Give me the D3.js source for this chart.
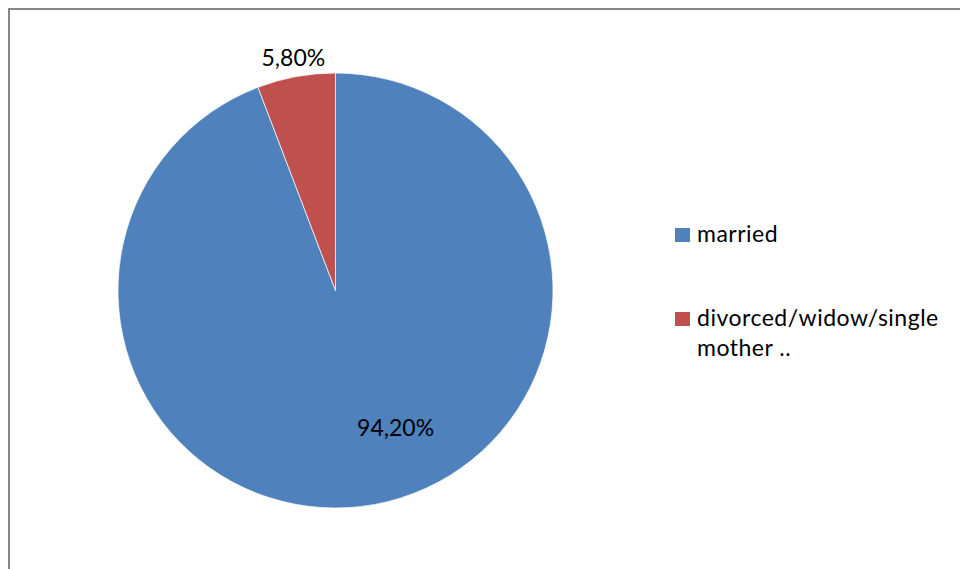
<!DOCTYPE html>
<html>
<head>
<meta charset="utf-8">
<script src="https://cdn.jsdelivr.net/npm/d3@7"></script>
<style>
    body { margin: 0; background: #fff; }
    svg { display: block; font-family: Lato, "Open Sans", sans-serif; }
</style>
</head>
<body>
<svg width="960" height="569"></svg>
<script>
const categories = ["married", "divorced/widow/single mother .."];
const legendLines = [["married"], ["divorced/widow/single", "mother .."]];
const values = [94.2, 5.8];
const valueLabels = ["94,20%", "5,80%"];
const colors = ["#4F81BD", "#C0504D"];

const svg = d3.select("svg");
const cx = 335.5, cy = 290.5, radius = 217.5;

// chart frame (only top and left edges are visible in the crop)
svg.append("rect")
    .attr("x", 9)
    .attr("y", 9)
    .attr("width", 1000)
    .attr("height", 700)
    .attr("fill", "none")
    .attr("stroke", "#878787")
    .attr("stroke-width", 2);

const pie = d3.pie().sort(null).value(d => d);
const arcs = pie(values);
const arc = d3.arc().innerRadius(0).outerRadius(radius);

const g = svg.append("g").attr("transform", `translate(${cx},${cy})`);

g.selectAll("path")
    .data(arcs)
    .enter()
    .append("path")
    .attr("d", arc)
    .attr("fill", (d, i) => colors[i])
    .attr("stroke", "#fff")
    .attr("stroke-width", 0.7);

// data labels: big slice inside (best fit), small slice outside
const outsideArc = d3.arc().innerRadius(238).outerRadius(238);

g.selectAll(".value-label")
    .data(arcs)
    .enter()
    .append("text")
    .attr("class", "value-label")
    .attr("transform", (d, i) => {
        if (i === 0) {
            const a = (d.startAngle + d.endAngle) / 2 - 0.23;
            return `translate(${150 * Math.sin(a)},${-150 * Math.cos(a)})`;
        }
        const c = outsideArc.centroid(d);
        return `translate(${c[0] + 1},${c[1] + 1})`;
    })
    .attr("text-anchor", "middle")
    .attr("dy", "0.35em")
    .attr("font-size", 23)
    .attr("fill", "#000")
    .text((d, i) => valueLabels[i]);

// legend
const legendY = [228, 312];
const legend = svg.selectAll(".legend")
    .data(categories)
    .enter()
    .append("g")
    .attr("class", "legend")
    .attr("transform", (d, i) => `translate(675,${legendY[i]})`);

legend.append("rect")
    .attr("width", 15)
    .attr("height", 14)
    .attr("fill", (d, i) => colors[i]);

legend.each(function (d, i) {
    const t = d3.select(this).append("text")
        .attr("x", 22)
        .attr("y", 14)
        .attr("font-size", 23)
        .attr("letter-spacing", 0.5)
        .attr("fill", "#000");
    legendLines[i].forEach((line, j) => {
        t.append("tspan")
            .attr("x", 22)
            .attr("y", 14 + j * 30)
            .text(line);
    });
});
</script>
</body>
</html>
